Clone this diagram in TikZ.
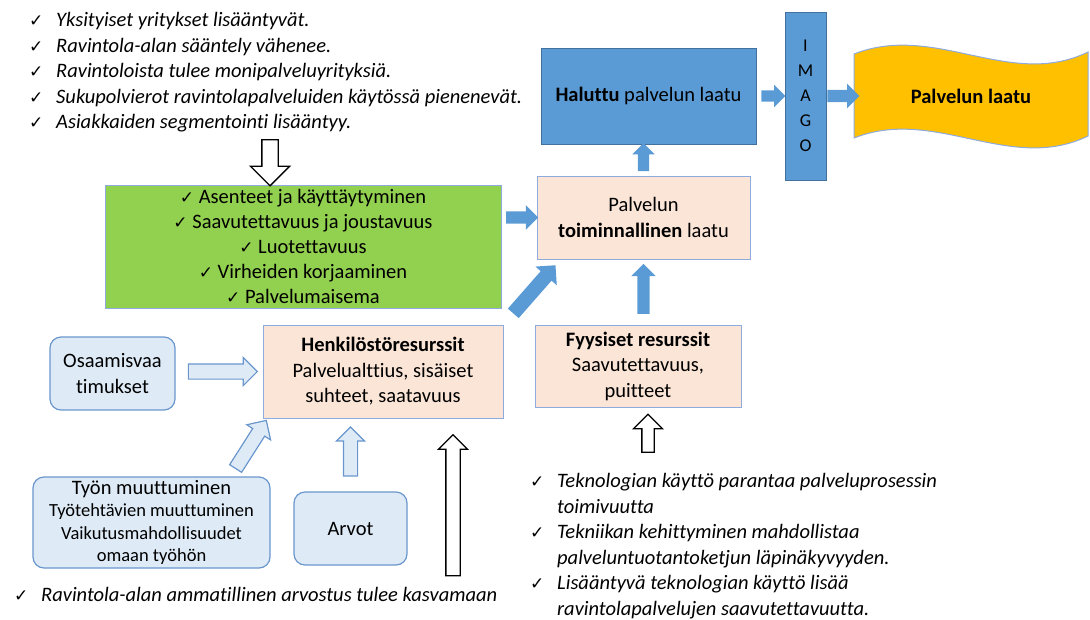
\documentclass[tikz,border=0pt]{standalone}
\usepackage{fontspec}
\setmainfont{Carlito}[Ligatures=NoCommon]
\newfontfamily\symfont{DejaVu Sans}
\usetikzlibrary{shapes.arrows, positioning}
\definecolor{haluttublue}{RGB}{91,155,213}
\definecolor{haluttuline}{RGB}{65,113,156}
\definecolor{peach}{RGB}{251,229,214}
\definecolor{peachline}{RGB}{143,170,220}
\definecolor{lightblue}{RGB}{222,235,247}
\definecolor{lightline}{RGB}{106,150,205}
\definecolor{greenbox}{RGB}{146,208,80}
\definecolor{gold}{RGB}{255,192,0}
\newcommand{\chk}{{\symfont\fontsize{17}{17}\selectfont ✓}}
\newcommand{\chkitem}{\makebox[27pt][l]{\chk}}

\tikzset{
  bodytxt/.style={font=\fontsize{20.5}{25.5}\selectfont},
  listtxt/.style={font=\fontsize{20.5}{25.6}\selectfont\itshape, align=left, inner sep=0pt},
  peachbox/.style={rectangle, draw=peachline, fill=peach, line width=1pt, align=center, bodytxt},
  bluebox/.style={rectangle, draw=haluttuline, fill=haluttublue, line width=1pt, align=center, bodytxt},
  softbox/.style={rectangle, rounded corners=11pt, draw=lightline, fill=lightblue, line width=1.2pt, align=center, bodytxt},
  blockarr/.style n args={3}{single arrow, minimum height=#1, inner xsep=0pt, inner ysep=#2,
                             single arrow head extend=#3, sloped, allow upside down, midway, anchor=center},
  bluearr/.style n args={3}{blockarr={#1}{#2}{#3}, fill=haluttublue, draw=none},
  lightarr/.style n args={3}{blockarr={#1}{#2}{#3}, fill=lightblue, draw=lightline, line width=1.2pt},
  whitearr/.style n args={3}{blockarr={#1}{#2}{#3}, fill=white, draw=black, line width=1.3pt}
}

\begin{document}
\begin{tikzpicture}[x=1pt, y=-1pt]
    \useasboundingbox (0,0) rectangle (1090,619);

    % quality boxes
    \node (hal) [bluebox, minimum width=215pt, minimum height=96pt] at (648.5,96) {\textbf{Haluttu} palvelun laatu};
    \node (imago) [bluebox, minimum width=41pt, minimum height=168pt, font=\fontsize{18}{25}\selectfont] at (805.5,96) {I\\M\\A\\G\\O};
    \draw[draw=peachline, fill=gold, line width=1pt]
        (854,54) .. controls (935,22) and (1010,90) .. (1088,52) -- (1088,136)
        .. controls (1010,174) and (935,106) .. (854,138) -- cycle;
    \node (laatu) [bodytxt, minimum width=234pt, minimum height=84pt] at (971,96) {\textbf{Palvelun laatu}};
    \node (toim) [peachbox, minimum width=213pt, minimum height=83pt] at (643.5,217.5) {Palvelun\\\textbf{toiminnallinen} laatu};
    \node (green) [rectangle, draw=peachline, fill=greenbox, line width=1pt, align=center, bodytxt,
                   font=\fontsize{20.5}{25}\selectfont, minimum width=396pt, minimum height=123pt] at (303,246.5)
        {\chk\ Asenteet ja käyttäytyminen\\\chk\ Saavutettavuus ja joustavuus\\\chk\ Luotettavuus\\
         \chk\ Virheiden korjaaminen\\\chk\ Palvelumaisema};
    \node (henk) [peachbox, minimum width=240pt, minimum height=93pt] at (383,371.5)
        {\textbf{Henkilöstöresurssit}\\Palvelualttius, sisäiset\\suhteet, saatavuus};
    \node (fyys) [peachbox, minimum width=206pt, minimum height=82pt] at (638,366)
        {\textbf{Fyysiset resurssit}\\Saavutettavuus,\\puitteet};

    % influencing factors
    \node (osaam) [softbox, minimum width=125pt, minimum height=73pt] at (112.5,373.5) {Osaamisvaa\\timukset};
    \node (tyon) [softbox, minimum width=237pt, minimum height=91pt, font=\fontsize{18.5}{22.3}\selectfont] at (151.5,522.5)
        {{\fontsize{20.5}{22.3}\selectfont Työn muuttuminen}\\Työtehtävien muuttuminen\\Vaikutusmahdollisuudet\\omaan työhön};
    \node (arvot) [softbox, minimum width=113pt, minimum height=73pt] at (350.5,528.5) {Arvot};

    % trend lists
    \node (trends) [listtxt, anchor=north west] at (29,12)
        {\chkitem Yksityiset yritykset lisääntyvät.\\
         \chkitem Ravintola-alan sääntely vähenee.\\
         \chkitem Ravintoloista tulee monipalveluyrityksiä.\\
         \chkitem Sukupolvierot ravintolapalveluiden käytössä pienenevät.\\
         \chkitem Asiakkaiden segmentointi lisääntyy.};
    \node (arvostus) [listtxt, anchor=west] at (14,594) {\chkitem Ravintola-alan ammatillinen arvostus tulee kasvamaan};
    \node (tekno) [listtxt, anchor=north west] at (530,473)
        {\chkitem Teknologian käyttö parantaa palveluprosessin\\
         \hspace*{27pt}toimivuutta\\
         \chkitem Tekniikan kehittyminen mahdollistaa\\
         \hspace*{27pt}palveluntuotantoketjun läpinäkyvyyden.\\
         \chkitem Lisääntyvä teknologian käyttö lisää\\
         \hspace*{27pt}ravintolapalvelujen saavutettavuutta.};

    % block arrows
    \path (green.east |- toim.west) -- node[bluearr={32pt}{6pt}{6pt}] {} (toim.west);
    \path (toim.north) -- node[bluearr={28pt}{5.5pt}{5.5pt}] {} (toim.north |- hal.south);
    \path (toim.south |- fyys.north) -- node[bluearr={50pt}{6pt}{6pt}] {} (toim.south);
    \path (henk.north east) -- node[bluearr={64pt}{7pt}{7pt}] {} ([xshift=24pt]toim.south west);
    \path (hal.east) -- node[bluearr={24pt}{5.5pt}{5.5pt}] {} (imago.west);
    \path (imago.east) -- node[bluearr={32pt}{6pt}{6pt}] {} (laatu.west);

    \path (osaam.east |- henk.west) -- node[lightarr={69pt}{7pt}{6.5pt}] {} (henk.west);
    \path ([xshift=-40pt]tyon.north east) -- node[lightarr={57pt}{6.5pt}{7pt}] {} ([xshift=5pt]henk.south west);
    \path (arvot.north) -- node[lightarr={49pt}{6.5pt}{7pt}] {} (arvot.north |- henk.south);

    \coordinate (trendtail) at (270,136);
    \coordinate (valuetail) at (453,579);
    \coordinate (techtail) at (648,455);
    \path (trendtail) -- node[whitearr={46pt}{7.5pt}{11.5pt}] {} ([yshift=3pt]trendtail |- green.north);
    \path (valuetail) -- node[whitearr={141pt}{6.5pt}{7.5pt}] {} ([yshift=-20pt]valuetail |- henk.south);
    \path (techtail) -- node[whitearr={38pt}{5.5pt}{8.5pt}] {} ([yshift=-10pt]techtail |- fyys.south);
\end{tikzpicture}
\end{document}
